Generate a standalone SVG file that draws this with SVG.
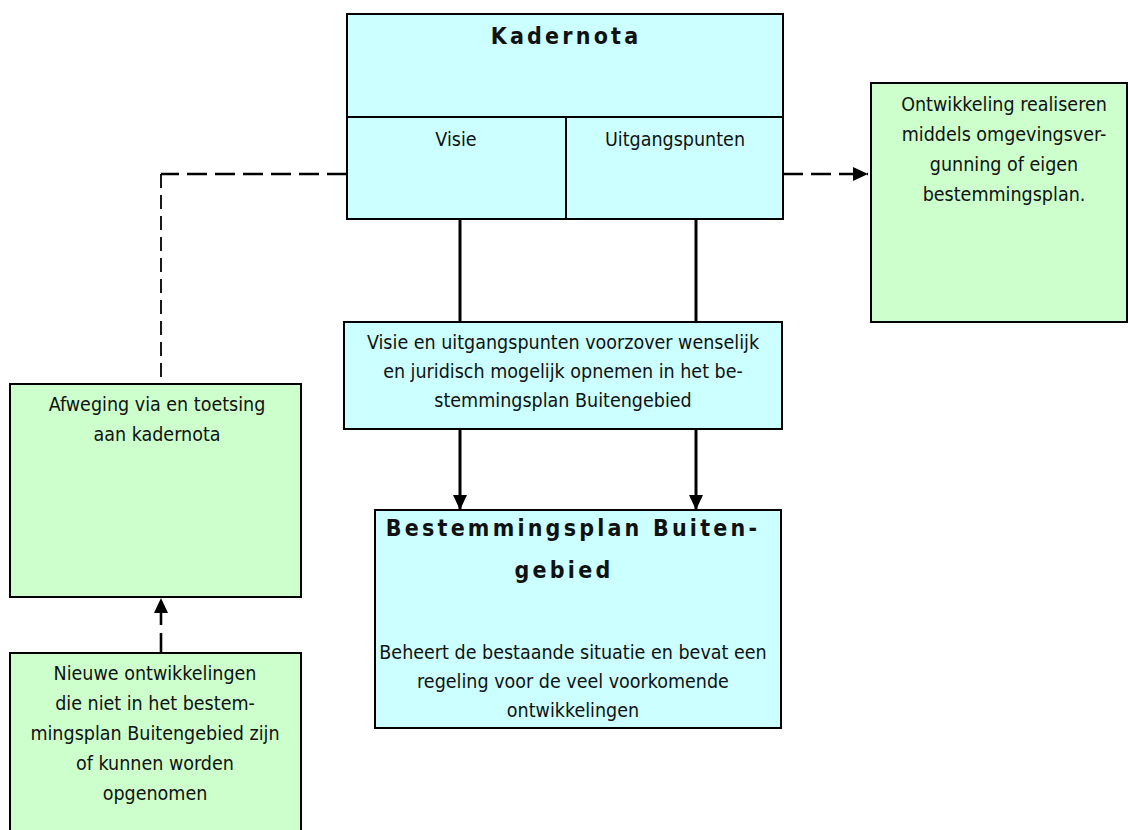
<svg xmlns="http://www.w3.org/2000/svg" width="1128" height="830" viewBox="0 0 1128 830">
<defs>
<style>
.cyan{fill:#CCFFFF;stroke:#000;stroke-width:2}
.green{fill:#CCFFCC;stroke:#000;stroke-width:2}
.t{font-family:'DejaVu Sans Condensed','DejaVu Sans',sans-serif;font-stretch:condensed;font-size:19.5px;fill:#111;text-anchor:middle}
.h{font-family:'DejaVu Sans Condensed','DejaVu Sans',sans-serif;font-stretch:condensed;font-weight:bold;font-size:23px;letter-spacing:3.2px;fill:#111;text-anchor:middle}
.solid{stroke:#000;stroke-width:3;fill:none}
.dash{stroke:#000;stroke-width:2.6;fill:none;stroke-dasharray:20 8}
.dashthin{stroke:#000;stroke-width:1.8;fill:none;stroke-dasharray:14 7}
</style>
<marker id="arr" markerUnits="userSpaceOnUse" markerWidth="16" markerHeight="16" viewBox="0 0 16 16" refX="15" refY="8" orient="auto">
<path d="M0,1 L15,8 L0,15 Z" fill="#000"/>
</marker>
</defs>
<rect width="1128" height="830" fill="#fff"/>
<g id="connectors">
<path class="dash" d="M347,174 H161"/>
<path class="dashthin" d="M161,174 V384"/>
<path class="dash" d="M783,174 H868" marker-end="url(#arr)"/>
<path class="solid" d="M460,219 V322"/>
<path class="solid" d="M696,219 V322"/>
<path class="solid" d="M460,429 V510" marker-end="url(#arr)"/>
<path class="solid" d="M696,429 V510" marker-end="url(#arr)"/>
<path class="dash" d="M161,653 V598" marker-end="url(#arr)"/>
</g>
<g id="kadernota">
<rect class="cyan" x="347" y="14" width="436" height="205"/>
<line x1="347" y1="117" x2="783" y2="117" stroke="#000" stroke-width="2"/>
<line x1="566" y1="117" x2="566" y2="219" stroke="#000" stroke-width="2"/>
<text class="h" x="566" y="44">Kadernota</text>
<text class="t" x="456" y="146">Visie</text>
<text class="t" x="675" y="146">Uitgangspunten</text>
</g>
<g id="ontwikkeling">
<rect class="green" x="871" y="83" width="256" height="239"/>
<text class="t" x="1004" y="111">Ontwikkeling realiseren</text>
<text class="t" x="1004" y="141">middels omgevingsver-</text>
<text class="t" x="1004" y="171">gunning of eigen</text>
<text class="t" x="1004" y="201">bestemmingsplan.</text>
</g>
<g id="visie-opnemen">
<rect class="cyan" x="344" y="322" width="438" height="107" stroke-width="1.5"/>
<text class="t" x="563" y="349">Visie en uitgangspunten voorzover wenselijk</text>
<text class="t" x="563" y="378">en juridisch mogelijk opnemen in het be-</text>
<text class="t" x="563" y="407">stemmingsplan Buitengebied</text>
</g>
<g id="bestemmingsplan">
<rect class="cyan" x="375" y="510" width="406" height="218"/>
<text class="h" x="573" y="536">Bestemmingsplan Buiten-</text>
<text class="h" x="564" y="578">gebied</text>
<text class="t" x="573" y="659">Beheert de bestaande situatie en bevat een</text>
<text class="t" x="573" y="688">regeling voor de veel voorkomende</text>
<text class="t" x="573" y="717">ontwikkelingen</text>
</g>
<g id="afweging">
<rect class="green" x="10" y="384" width="291" height="213"/>
<text class="t" x="157" y="411">Afweging via en toetsing</text>
<text class="t" x="157" y="441">aan kadernota</text>
</g>
<g id="nieuwe">
<rect class="green" x="10" y="653" width="291" height="190"/>
<text class="t" x="155" y="680">Nieuwe ontwikkelingen</text>
<text class="t" x="155" y="710">die niet in het bestem-</text>
<text class="t" x="155" y="740">mingsplan Buitengebied zijn</text>
<text class="t" x="155" y="770">of kunnen worden</text>
<text class="t" x="155" y="800">opgenomen</text>
</g>
</svg>
